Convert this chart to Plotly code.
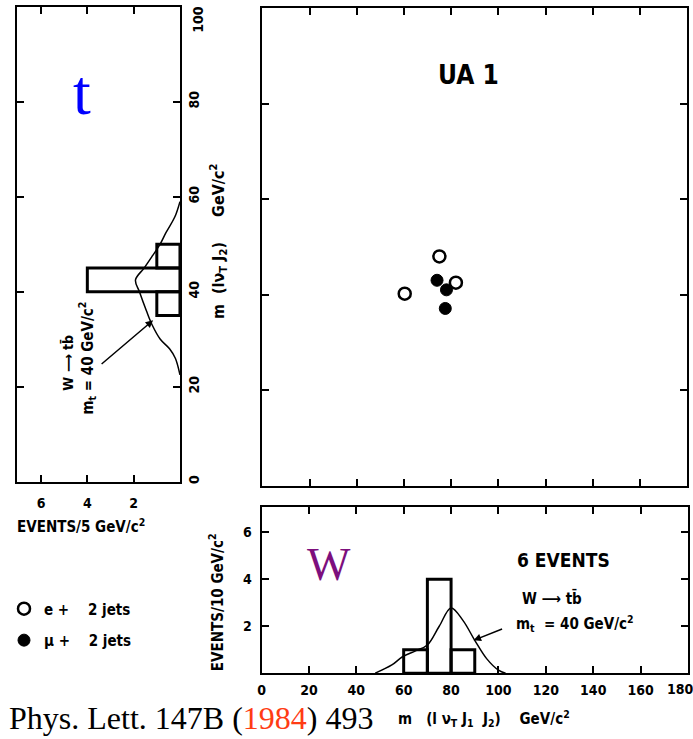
import plotly.graph_objects as go

W, H = 693, 739
FONT = "DejaVu Sans Condensed, DejaVu Sans, sans-serif"
SERIF = "Liberation Serif, Times New Roman, serif"
NB = "\u00a0"

# ---------------- data ----------------
# scatter: m(l nu J1 J2) vs m(l nu J2)
e_mass_x = [75.0, 60.3, 82.0]
e_mass_y = [48.0, 40.2, 42.5]
mu_mass_x = [74.0, 78.0, 77.5]
mu_mass_y = [43.0, 41.0, 37.1]

# left projection (5 GeV bins)
left_bins = [37.5, 42.5, 47.5]
left_counts = [1, 4, 1]
left_curve_mass = [22.5, 26, 28, 30, 33, 36, 40, 42.5, 45, 47.5, 50, 52.5, 55.8, 59]
left_curve_events = [0, 0.2, 0.45, 0.85, 1.2, 1.45, 1.75, 1.92, 1.55, 1.2, 0.86, 0.6, 0.22, 0]

# bottom projection (10 GeV bins)
bot_bins = [65, 75, 85]
bot_counts = [1, 4, 1]
bot_curve_mass = [48, 55, 59.5, 65, 70, 75, 80, 85, 90, 95, 100, 103]
bot_curve_events = [0, 0.35, 0.7, 0.95, 1.2, 2.0, 2.78, 2.25, 1.4, 0.62, 0.13, 0]

left_x_ticks = [2, 4, 6]
mass_ticks = [0, 20, 40, 60, 80, 100]
bot_x_ticks = [0, 20, 40, 60, 80, 100, 120, 140, 160, 180]
bot_y_ticks = [2, 4, 6]

# ---------------- figure ----------------
fig = go.Figure()
hist_style = dict(color="rgba(0,0,0,0)", line=dict(color="black", width=3))
curve_style = dict(color="black", width=1.5, shape="spline")

fig.add_trace(go.Bar(y=left_bins, x=left_counts, orientation="h", width=5,
                     marker=hist_style, xaxis="x", yaxis="y", showlegend=False))
fig.add_trace(go.Scatter(x=left_curve_events, y=left_curve_mass, mode="lines",
                         line=curve_style, xaxis="x", yaxis="y", showlegend=False))

fig.add_trace(go.Scatter(x=e_mass_x, y=e_mass_y, mode="markers", name=f"e +{NB*4}2 jets",
                         legendgroup="e",
                         marker=dict(symbol="circle", size=12, color="white",
                                     line=dict(color="black", width=2.5)),
                         xaxis="x2", yaxis="y2"))
fig.add_trace(go.Scatter(x=mu_mass_x, y=mu_mass_y, mode="markers", name=f"μ +{NB*4}2 jets",
                         legendgroup="mu",
                         marker=dict(symbol="circle", size=12, color="black",
                                     line=dict(color="black", width=1)),
                         xaxis="x2", yaxis="y2"))

fig.add_trace(go.Bar(x=bot_bins, y=bot_counts, width=10, marker=hist_style,
                     xaxis="x3", yaxis="y3", showlegend=False))
fig.add_trace(go.Scatter(x=bot_curve_mass, y=bot_curve_events, mode="lines",
                         line=curve_style, xaxis="x3", yaxis="y3", showlegend=False))

TICKFONT = dict(family=FONT, size=14, color="black", weight="bold")
ax = dict(showline=True, linecolor="black", linewidth=2, mirror="ticks",
          ticks="inside", ticklen=7, tickwidth=2, tickcolor="black",
          showgrid=False, zeroline=False, tickfont=TICKFONT)


def py(p):
    return 1 - p / H


fig.update_layout(
    width=W, height=H, autosize=False,
    margin=dict(l=0, r=0, t=0, b=0),
    paper_bgcolor="white", plot_bgcolor="white",
    xaxis=dict(domain=[13 / W, 177 / W], range=[7.04, 0], tickvals=left_x_ticks,
               anchor="y", ticklabelstandoff=8, **ax),
    yaxis=dict(domain=[py(483), py(7)], range=[0, 100], tickvals=mass_ticks,
               side="right", anchor="x", tickangle=-90, **ax),
    xaxis2=dict(domain=[260 / W, 687 / W], range=[0, 180],
                tickvals=bot_x_ticks[1:-1], showticklabels=False, anchor="y2", **ax),
    yaxis2=dict(domain=[py(487), py(8)], range=[0, 100], tickvals=mass_ticks[1:-1],
                showticklabels=False, anchor="x2", **ax),
    xaxis3=dict(domain=[259 / W, 688 / W], range=[0, 180], tickvals=bot_x_ticks,
                anchor="y3", ticklabelstandoff=3, **ax),
    yaxis3=dict(domain=[py(675), py(508)], range=[0, 7.1], tickvals=bot_y_ticks,
                anchor="x3", ticklabelstandoff=5, **ax),
    showlegend=True,
    legend=dict(x=0.0, y=py(594), xanchor="left", yanchor="top",
                bgcolor="rgba(0,0,0,0)", tracegroupgap=9, traceorder="grouped",
                font=dict(family=FONT, size=15, color="black", weight="bold")),
)

txt = dict(family=FONT, color="black", weight="bold")


def note(text, x, y, size=14, angle=0, font=None, xanchor="center", **kw):
    f = dict(txt, size=size) if font is None else font
    fig.add_annotation(text=text, x=x / W, y=py(y), xref="paper", yref="paper",
                       showarrow=False, textangle=angle, font=f,
                       xanchor=xanchor, yanchor="middle", **kw)


# edge tick labels that would otherwise be hidden at the page border
note(str(mass_ticks[-1]), 195, 19, size=14, angle=-90)
note(str(bot_x_ticks[-1]), 680, 691, size=14)

note("t", 78, 93, font=dict(family=SERIF, size=64, color="#0000ff"))
note("UA 1", 467, 75, size=26)
note(f"m{NB*2}(lν<sub>T</sub> J<sub>2</sub>){NB*5}GeV/c<sup>2</sup>", 216, 242, size=16, angle=-90)
note(f"W ⟶ tb\u0304", 64, 364, size=14, angle=-90)
note(f"m<sub>t</sub> = 40 GeV/c<sup>2</sup>", 83, 359, size=15, angle=-90)
note("EVENTS/5 GeV/c<sup>2</sup>", 11, 527, size=15, xanchor="left")
note("EVENTS/10 GeV/c<sup>2</sup>", 214, 604, size=15, angle=-90)
note("W", 327, 566, font=dict(family=SERIF, size=46, color="#7d0f7d"))
note("6 EVENTS", 563, 562, size=19)
note("W ⟶ tb\u0304", 551, 600, size=15)
note(f"m<sub>t</sub>{NB*2}= 40 GeV/c<sup>2</sup>", 574, 625, size=15)
note(f"m{NB*3}(l{NB}ν<sub>T</sub>{NB}J<sub>1</sub>{NB}{NB}J<sub>2</sub>){NB*4}GeV/c<sup>2</sup>",
     483, 720, size=15)
note("Phys. Lett. 147B (<span style='color:#ff3c14'>1984</span>) 493", 3, 720,
     font=dict(family=SERIF, size=32, color="black"), xanchor="left")

# arrows pointing at the expected curves
fig.add_annotation(x=1.16, y=34, xref="x", yref="y", ax=-53, ay=45, text="",
                   showarrow=True, arrowhead=2, arrowsize=1, arrowwidth=1.5,
                   arrowcolor="black")
fig.add_annotation(x=89.5, y=1.4, xref="x3", yref="y3", ax=30, ay=-12, text="",
                   showarrow=True, arrowhead=2, arrowsize=1, arrowwidth=1.5,
                   arrowcolor="black")

fig.write_html("out.html")
